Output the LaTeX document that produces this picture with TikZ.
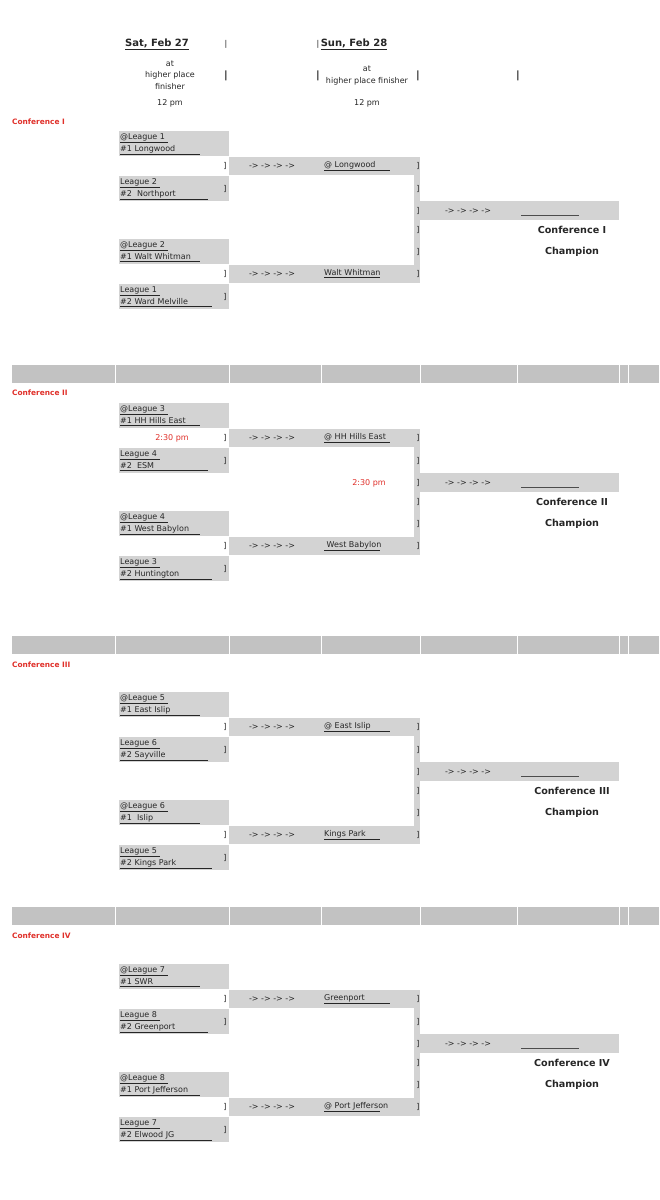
\documentclass[tikz,border=0pt]{standalone}
\usepackage{fontspec}
\setmainfont{DejaVu Sans}
\definecolor{cellg}{HTML}{D3D3D3}
\definecolor{sepg}{HTML}{C2C2C2}
\definecolor{conf}{HTML}{E0302A}
\newcommand\ulw[2]{\underline{\makebox[#1][l]{#2}}}
\begin{document}
\begin{tikzpicture}[x=1pt,y=-1pt,
  every node/.style={inner sep=0pt,text=black!85,font=\fontsize{8}{9}\selectfont},
  lft/.style={anchor=west},
  hdr/.style={font=\fontsize{10}{11}\selectfont\bfseries},
  brk/.style={font=\fontsize{8}{9}\selectfont},
  red/.style={text=conf},
  confl/.style={anchor=west,text=conf,font=\fontsize{7.4}{9}\selectfont\bfseries},
  champ/.style={font=\fontsize{9.6}{11}\selectfont\bfseries}]
\useasboundingbox (0,0) rectangle (659,1200);
\fill[white] (0,0) rectangle (659,1200);
% header
\node[hdr] (h1) at (157,44) {\underline{Sat, Feb 27}};
\node[hdr] (h2) at (354,44) {\underline{Sun, Feb 28}};
\node (b1) at (226,44) {|};
\node (b2) at (318,44) {|};
\node[align=center,font=\fontsize{8}{11.5}\selectfont] (at1) at (170,75) {at\\higher place\\finisher};
\node[align=center,font=\fontsize{8}{12}\selectfont] (at2) at (367,76) {at\\higher place finisher};
\node[font=\bfseries] (b3) at (226,76) {|};
\node[font=\bfseries] (b4) at (318,76) {|};
\node[font=\bfseries] (b5) at (418,76) {|};
\node[font=\bfseries] (b6) at (518,76) {|};
\node (t1) at (170,103) {12 pm};
\node (t2) at (367,103) {12 pm};
% separators
\foreach \sy in {365,636,907}{
  \fill[sepg] (12,\sy) rectangle (659,\sy+18);
  \foreach \sx in {115,229,321,420,517,619,628}
    \draw[white,line width=0.6pt] (\sx,\sy) -- (\sx,\sy+18);
}
% conferences
\foreach \k/\oy/\ly/\lab/\la/\lb/\lc/\ld/\le/\lf/\lg/\lh/\sa/\sb in {
 1/131/122/Conference I/@League 1/\#1 Longwood/League 2/\#2\ \ Northport/@League 2/\#1 Walt Whitman/League 1/\#2 Ward Melville/@ Longwood/Walt Whitman,
 2/403/393/Conference II/@League 3/\#1 HH Hills East/League 4/\#2\ \ ESM/@League 4/\#1 West Babylon/League 3/\#2 Huntington/@ HH Hills East/\ West Babylon,
 3/692/665/Conference III/@League 5/\#1 East Islip/League 6/\#2 Sayville/@League 6/\#1\ \ Islip/League 5/\#2 Kings Park/@ East Islip/Kings Park,
 4/964/936/Conference IV/@League 7/\#1 SWR/League 8/\#2 Greenport/@League 8/\#1 Port Jefferson/League 7/\#2 Elwood JG/Greenport/@ Port Jefferson}{
  \node[confl] (cl\k) at (12,\ly) {\lab};
  \fill[cellg] (119,\oy) rectangle (229,\oy+25);
  \fill[cellg] (119,\oy+45) rectangle (229,\oy+70);
  \fill[cellg] (119,\oy+108) rectangle (229,\oy+133);
  \fill[cellg] (119,\oy+153) rectangle (229,\oy+178);
  \fill[cellg] (229,\oy+26) rectangle (420,\oy+44);
  \fill[cellg] (229,\oy+134) rectangle (420,\oy+152);
  \fill[cellg] (414,\oy+44) rectangle (420,\oy+134);
  \fill[cellg] (420,\oy+70) rectangle (619,\oy+89);
  \node[lft] (a\k) at (120,\oy+7) {\underline{\la\ }};
  \node[lft] (b\k) at (120,\oy+19) {\ulw{80pt}{\lb}};
  \node[lft] (c\k) at (120,\oy+52) {\underline{\lc\ }};
  \node[lft] (d\k) at (120,\oy+64) {\ulw{88pt}{\ld}};
  \node[lft] (e\k) at (120,\oy+115) {\underline{\le\ }};
  \node[lft] (f\k) at (120,\oy+127) {\ulw{80pt}{\lf}};
  \node[lft] (g\k) at (120,\oy+160) {\underline{\lg\ }};
  \node[lft] (h\k) at (120,\oy+172) {\ulw{92pt}{\lh}};
  \node[brk] (p1\k) at (225,\oy+35) {]};
  \node[brk] (p2\k) at (225,\oy+58) {]};
  \node[brk] (p3\k) at (225,\oy+143) {]};
  \node[brk] (p4\k) at (225,\oy+166) {]};
  \node (r1\k) at (272,\oy+35) {-> -> -> ->};
  \node (r2\k) at (272,\oy+143) {-> -> -> ->};
  \node[lft] (s1\k) at (324,\oy+35) {\ulw{66pt}{\sa}};
  \node[lft] (s2\k) at (324,\oy+143) {\ulw{56pt}{\sb}};
  \foreach \q in {35,58,80,99,121,143}
    \node[brk] at (418,\oy+\q) {]};
  \node (r3\k) at (468,\oy+80) {-> -> -> ->};
  \draw[black!70,line width=0.5pt] (521,\oy+84) -- (579,\oy+84);
  \node[champ] (ca\k) at (572,\oy+99) {\lab};
  \node[champ] (cb\k) at (572,\oy+121) {Champion};
}
\node[red] (tm1) at (172,438) {2:30 pm};
\node[red] (tm2) at (369,483) {2:30 pm};
\end{tikzpicture}
\end{document}
